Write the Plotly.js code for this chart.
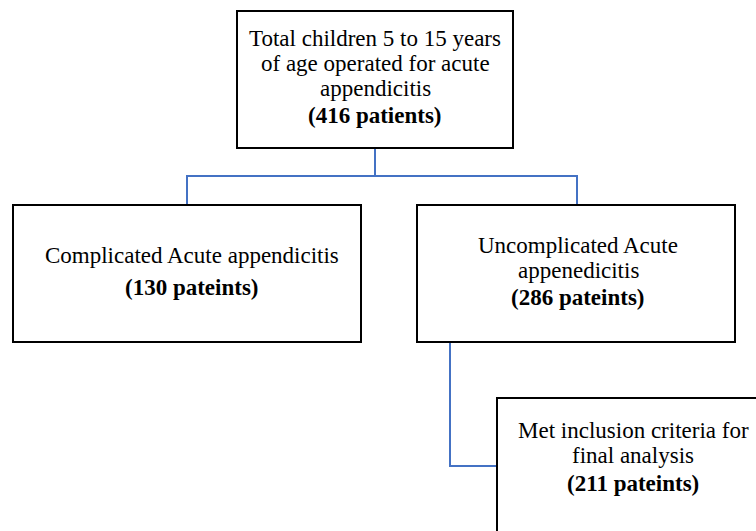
<!DOCTYPE html>
<html>
<head>
<meta charset="utf-8">
<script src="https://cdn.plot.ly/plotly-3.0.1.min.js"></script>
<style>html,body{margin:0;padding:0;background:#fff}#chart{width:756px;height:531px}</style>
</head>
<body>
<div id="chart"></div>
<script>
// Node content
const nodeLabels = [
  ["Total children 5 to 15 years", "of age operated for acute", "appendicitis"],
  ["Complicated Acute appendicitis"],
  ["Uncomplicated Acute", "appenedicitis"],
  ["Met inclusion criteria for", "final analysis"]
];
const nodeCounts = ["(416 patients)", "(130 pateints)", "(286 pateints)", "(211 pateints)"];

// Layout (pixel frame)
const boxes = [
  {x0: 237, x1: 513, y0: 11, y1: 148, cx: 375, ty: 38, cy: 115},
  {x0: 13, x1: 361, y0: 205, y1: 342, cx: 192, ty: 255, cy: 287},
  {x0: 417, x1: 735, y0: 205, y1: 342, cx: 578, ty: 245, cy: 297},
  {x0: 497, x1: 771, y0: 398, y1: 560, cx: 633, ty: 430, cy: 483}
];
const lineGap = 25;
const fontFam = "Liberation Serif, Times New Roman, serif";

const shapes = [];
const annotations = [];
const lineColor = "#4472C4";
boxes.forEach((b, i) => {
  shapes.push({type: "rect", xref: "x", yref: "y", x0: b.x0, x1: b.x1, y0: b.y0, y1: b.y1,
    line: {color: "#000", width: 2}, fillcolor: "#fff", layer: "above"});
  nodeLabels[i].forEach((t, k) => {
    annotations.push({x: b.cx, y: b.ty + k * lineGap, xref: "x", yref: "y", text: t, showarrow: false,
      font: {family: fontFam, size: 23, color: "#000"}, align: "center"});
  });
  annotations.push({x: b.cx, y: b.cy, xref: "x", yref: "y", text: "<b>" + nodeCounts[i] + "</b>", showarrow: false,
    font: {family: fontFam, size: 23, color: "#000"}, align: "center"});
});
// Connectors
const busY = 176;
shapes.push({type: "path", xref: "x", yref: "y", layer: "below",
  path: `M375,148 L375,${busY}`, line: {color: lineColor, width: 2}});
[187, 577].forEach(cx => {
  shapes.push({type: "path", xref: "x", yref: "y", layer: "below",
    path: `M375,${busY} L${cx},${busY} L${cx},205`, line: {color: lineColor, width: 2}});
});
shapes.push({type: "path", xref: "x", yref: "y", layer: "below",
  path: `M450,342 L450,466 L497,466`, line: {color: lineColor, width: 2}});

Plotly.newPlot("chart", [{x: [], y: [], type: "scatter", mode: "markers", hoverinfo: "skip"}], {
  width: 756, height: 531,
  margin: {l: 0, r: 0, t: 0, b: 0},
  paper_bgcolor: "#fff", plot_bgcolor: "#fff",
  xaxis: {range: [0, 756], visible: false, fixedrange: true},
  yaxis: {range: [531, 0], visible: false, fixedrange: true},
  showlegend: false,
  shapes: shapes,
  annotations: annotations
}, {displayModeBar: false, staticPlot: true});
</script>
</body>
</html>
